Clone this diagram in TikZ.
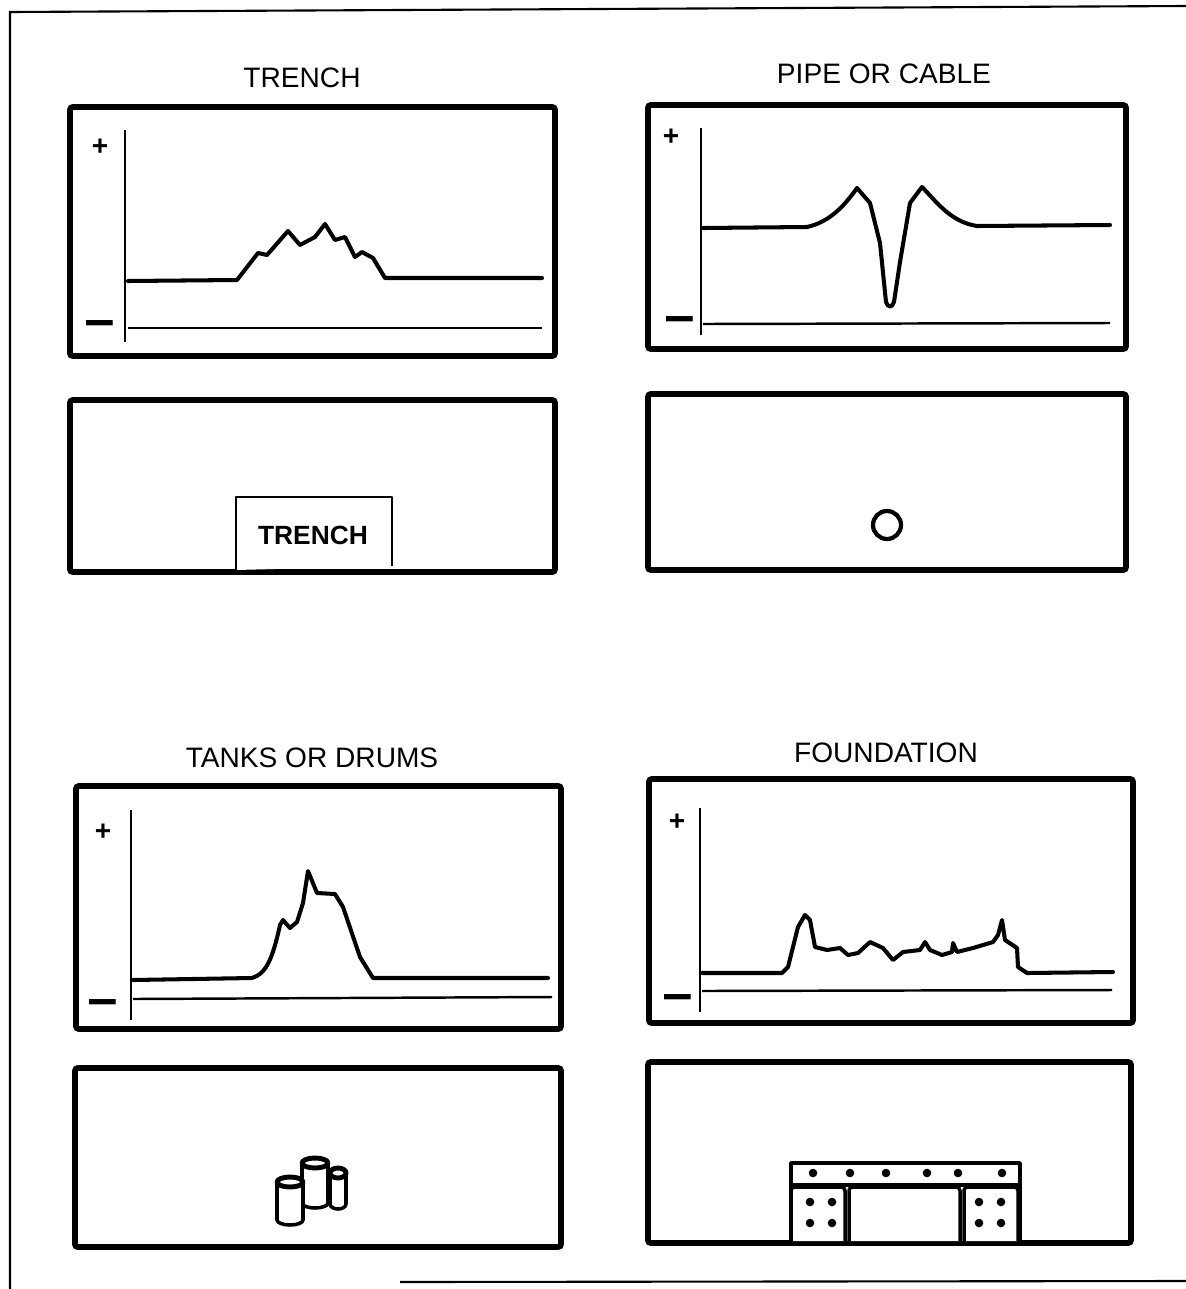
\documentclass[tikz,border=0pt]{standalone}
\usepackage{fontspec}
\setmainfont{Liberation Sans}
\usetikzlibrary{positioning}

\tikzset{
  panel/.style={line width=3.2pt, rounded corners=1.5pt},
  axis/.style={line width=1.4pt},
  signal/.style={line width=2.3pt, line join=round, line cap=round},
  title/.style={font=\fontsize{16}{18}\selectfont, inner sep=0pt},
  sign/.style={font=\bfseries\fontsize{16}{18}\selectfont, inner sep=0pt},
  part/.style={line width=2pt, fill=white, line join=round},
  frame/.style={line width=1.2pt}
}

% one cylinder: centre x, top y, bottom y, radius
\newcommand{\drum}[4]{%
  \draw[part] (#1-#4,#2) -- (#1-#4,#3)
    arc[start angle=180, end angle=0, x radius=#4, y radius=5] -- (#1+#4,#2);
  \draw[part, line width=2.8pt] (#1,#2) ellipse[x radius=#4, y radius=5];
}
\newcommand{\minussign}{\scalebox{0.95}[1.9]{—}}

\begin{document}
\begin{tikzpicture}[x=0.02cm, y=-0.02cm]
    \useasboundingbox (0,0) rectangle (1186,1289);

    % outer frame (open on the right)
    \coordinate (fa) at (10,1289);
    \coordinate (fb) at (10,12);
    \coordinate (fc) at (1186,6);
    \coordinate (fd) at (400,1282);
    \coordinate (fe) at (1186,1281);
    \draw[frame] (fa) -- (fb) -- (fc);
    \draw[frame] (fd) -- (fe);

    % ---------------- TRENCH ----------------
    \node[title] (trenchtitle) at (302,78) {TRENCH};
    \draw[panel] (70,107) rectangle (555,356);
    \node[sign] (trenchplus) at (100,147) {+};
    \node[sign] (trenchminus) at (100,329) {\minussign};
    \draw[axis] (125,130) -- (125,342);
    \draw[axis] (128,328) -- (542,328);
    \draw[signal] (128,281) -- (237,280) -- (258,253) -- (267,255) -- (288,231)
      -- (300,245) -- (315,237) -- (325,224) -- (335,240) -- (345,237)
      -- (355,257) -- (362,252) -- (373,258) -- (385,278) -- (542,278);

    \draw[panel] (70,400) rectangle (555,572);
    \draw[part, line width=1.6pt] (236,570) -- (236,497) -- (392,497) -- (392,566);
    \node[font=\bfseries\fontsize{15}{17}\selectfont, inner sep=0pt] (trenchname) at (313,535) {TRENCH};

    % ---------------- PIPE OR CABLE ----------------
    \node[title] (pipetitle) at (884,74) {PIPE OR CABLE};
    \draw[panel] (648,105) rectangle (1126,349);
    \node[sign] (pipeplus) at (671,137) {+};
    \node[sign] (pipeminus) at (680,325) {\minussign};
    \draw[axis] (701,128) -- (701,335);
    \draw[axis] (703,324) -- (1110,323);
    \draw[signal] (703,228) -- (807,227) .. controls (830,222) and (845,205) .. (857,188)
      -- (870,203) -- (880,243) -- (886,302) .. controls (888,308) and (892,308) .. (894,302)
      -- (900,262) -- (910,203) -- (922,187) .. controls (935,200) and (950,222) .. (977,226)
      -- (1110,225);

    \draw[panel] (648,394) rectangle (1126,570);
    \node[circle, draw, line width=2.4pt, minimum size=0.56cm, inner sep=0pt] (pipe) at (887,525) {};

    % ---------------- TANKS OR DRUMS ----------------
    \node[title] (tankstitle) at (312,758) {TANKS OR DRUMS};
    \draw[panel] (76,786) rectangle (561,1029);
    \node[sign] (tanksplus) at (103,832) {+};
    \node[sign] (tanksminus) at (103,1008) {\minussign};
    \draw[axis] (131,810) -- (131,1020);
    \draw[axis] (133,999) -- (552,997);
    \draw[signal] (133,980) -- (252,978) .. controls (265,974) and (272,962) .. (280,925)
      -- (283,920) -- (290,928) -- (297,922) -- (303,903) -- (308,871)
      -- (317,893) -- (335,894) -- (343,907) -- (360,957) -- (373,978) -- (548,978);

    \draw[panel] (75,1068) rectangle (561,1247);
    \drum{338}{1173}{1204}{8}
    \drum{315}{1163}{1203}{13}
    \drum{290}{1182}{1220}{13}

    % ---------------- FOUNDATION ----------------
    \node[title] (foundtitle) at (886,753) {FOUNDATION};
    \draw[panel] (649,779) rectangle (1133,1023);
    \node[sign] (foundplus) at (677,822) {+};
    \node[sign] (foundminus) at (678,1003) {\minussign};
    \draw[axis] (700,808) -- (700,1012);
    \draw[axis] (702,991) -- (1112,990);
    \draw[signal] (702,973) -- (782,973) -- (788,967) -- (798,927) -- (805,915)
      -- (810,920) -- (815,947) -- (827,950) -- (840,948) -- (848,955)
      -- (858,953) -- (870,942) -- (883,948) -- (893,960) -- (903,952)
      -- (920,950) -- (925,942) -- (930,950) -- (942,955) -- (952,952)
      -- (953,943) -- (957,952) -- (973,948) -- (993,942) -- (998,935)
      -- (1002,920) -- (1005,940) -- (1017,948) -- (1018,967) -- (1027,973)
      -- (1113,972);

    \draw[panel] (648,1062) rectangle (1131,1243);
    \draw[part] (791,1241) -- (791,1163) -- (1020,1163) -- (1020,1241);
    \draw[part] (791,1185) -- (1020,1185);
    \draw[part, rounded corners=2pt] (791,1241) -- (791,1187) -- (845,1187) -- (845,1241);
    \draw[part, rounded corners=2pt] (849,1241) -- (849,1187) -- (960,1187) -- (960,1241);
    \draw[part, rounded corners=2pt] (964,1241) -- (964,1187) -- (1018,1187) -- (1018,1241);
    \foreach \x in {813,850,886,927,958,1002}
      \fill (\x,1173) circle (4.3);
    \foreach \x in {810,832,979,1001}
      \foreach \y in {1202,1223}
        \fill (\x,\y) circle (4.3);
\end{tikzpicture}
\end{document}
